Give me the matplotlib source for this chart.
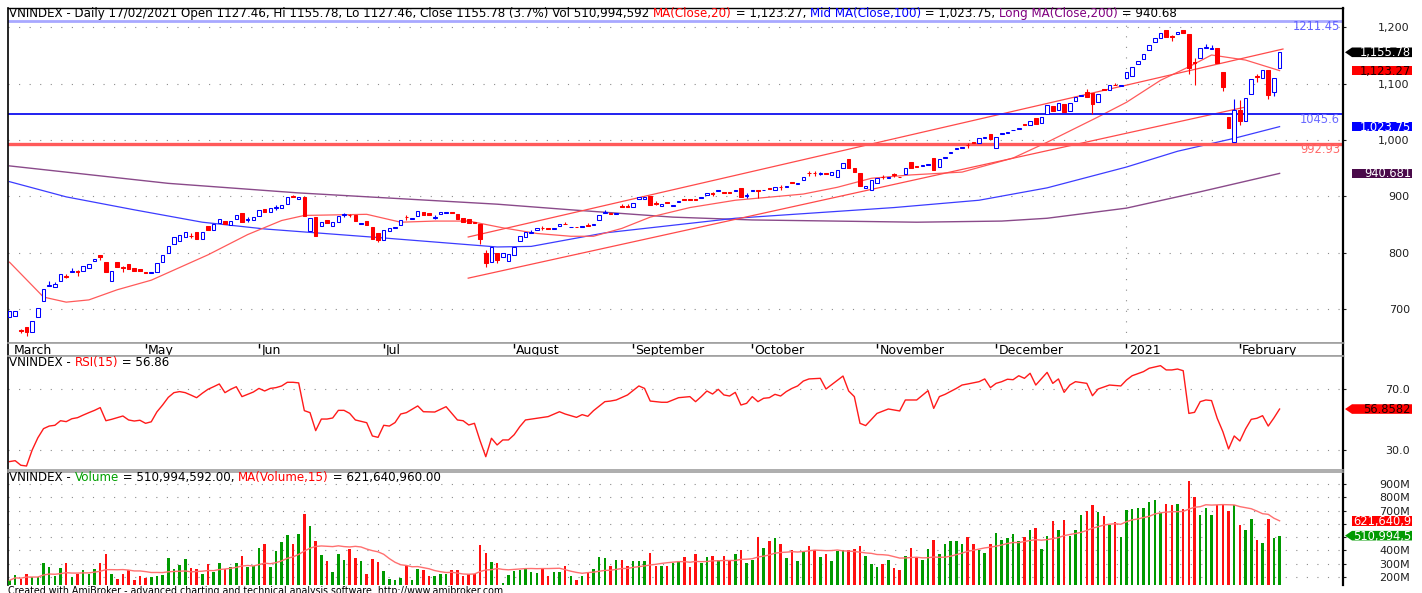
import numpy as np
import pandas as pd
import matplotlib
matplotlib.use('Agg')
import matplotlib.pyplot as plt
from matplotlib.patches import Polygon

plt.rcParams['font.family'] = ['DejaVu Sans']

# VNINDEX daily bars (bar 0 = late March 2020, last = 17/02/2021)
opens = [686, 688, 663, 668, 659, 686, 714, 740, 739, 750,
         759, 765, 767, 767, 772, 785, 795, 783, 750, 783,
         775, 779, 772, 770, 766, 763, 765, 783, 800, 815,
         820, 827, 830, 836, 824, 848, 840, 852, 856, 849,
         859, 870, 858, 858, 865, 877, 873, 880, 879, 886,
         900, 896, 899, 838, 863, 847, 858, 847, 854, 867,
         867, 866, 851, 856, 845, 834, 823, 839, 844, 849,
         864, 860, 865, 872, 870, 862, 868, 871, 872, 868,
         861, 859, 854, 850, 800, 783, 799, 793, 785, 796,
         820, 828, 834, 841, 844, 844, 842, 848, 851, 845,
         846, 846, 849, 849, 858, 871, 871, 869, 882, 882,
         881, 895, 895, 900, 888, 883, 890, 883, 890, 895,
         895, 896, 897, 903, 905, 909, 907, 907, 909, 914,
         901, 909, 912, 911, 915, 911, 917, 917, 926, 922,
         929, 942, 942, 940, 942, 938, 934, 950, 966, 950,
         941, 914, 911, 923, 935, 933, 939, 935, 939, 961,
         953, 954, 955, 968, 952, 968, 977, 984, 986, 992,
         996, 995, 1004, 1010, 986, 1010, 1013, 1017, 1020, 1028,
         1027, 1039, 1030, 1046, 1060, 1053, 1064, 1051, 1069, 1079,
         1085, 1083, 1067, 1090, 1089, 1098, 1096, 1110, 1114, 1135,
         1144, 1160, 1174, 1181, 1195, 1184, 1189, 1195, 1188, 1138,
         1145, 1164, 1162, 1163, 1121, 1041, 996, 1053, 1033, 1081,
         1113, 1110, 1124, 1085, 1127.46]
closes = [696, 697, 661, 659, 679, 702, 735, 743, 745, 762,
          757, 768, 765, 776, 779, 788, 793, 765, 767, 774,
          773, 770, 767, 768, 764, 765, 781, 795, 811, 827,
          832, 836, 829, 825, 836, 841, 850, 859, 850, 856,
          866, 854, 859, 863, 875, 872, 879, 881, 884, 899,
          899, 898, 865, 861, 829, 854, 852, 854, 865, 868,
          866, 856, 853, 849, 825, 822, 841, 843, 845, 858,
          863, 862, 874, 866, 866, 863, 872, 873, 870, 859,
          854, 852, 853, 825, 781, 810, 787, 799, 797, 810,
          830, 836, 836, 843, 843, 842, 844, 850, 850, 846,
          845, 848, 848, 851, 866, 872, 869, 871, 881, 881,
          888, 899, 898, 884, 887, 886, 888, 885, 892, 894,
          894, 894, 899, 905, 904, 911, 906, 906, 911, 899,
          902, 911, 910, 912, 913, 916, 916, 919, 924, 924,
          934, 941, 941, 941, 940, 943, 946, 959, 950, 943,
          918, 918, 929, 932, 934, 935, 938, 934, 950, 950,
          952, 955, 957, 946, 966, 970, 979, 986, 988, 991,
          995, 1003, 1006, 1002, 1005, 1012, 1014, 1018, 1021, 1026,
          1034, 1028, 1041, 1062, 1051, 1066, 1050, 1066, 1077, 1080,
          1076, 1064, 1081, 1088, 1098, 1097, 1097, 1121, 1130, 1140,
          1153, 1169, 1181, 1190, 1183, 1183, 1192, 1190, 1128, 1136,
          1163, 1165, 1163, 1137, 1094, 1021, 1053, 1033, 1074, 1108,
          1112, 1124, 1080, 1110, 1155.78]
# shadows that stick out of the body (bar index -> price)
wick_highs = {2: 665, 7: 750, 8: 748, 10: 762, 11: 772, 12: 769, 16: 796, 20: 777,
              32: 834, 42: 863, 47: 884, 50: 902, 59: 871, 60: 869, 70: 866, 75: 866,
              84: 804, 92: 840, 94: 847, 98: 854, 102: 852, 105: 875, 108: 886, 109: 886,
              114: 891, 124: 907, 130: 905, 136: 920, 141: 945, 142: 945, 143: 944,
              154: 938, 156: 941, 169: 995, 190: 1090, 195: 1102, 205: 1186, 209: 1145,
              211: 1170, 212: 1168, 216: 1072, 217: 1071, 220: 1118}
wick_lows = {2: 658, 3: 652, 10: 754, 12: 758, 16: 786, 20: 765, 32: 826, 42: 855,
             47: 876, 59: 864, 60: 863, 65: 818, 70: 858, 75: 859, 83: 815, 84: 775,
             86: 781, 94: 840, 114: 884, 124: 900, 130: 897, 132: 897, 136: 911,
             141: 936, 142: 936, 143: 937, 154: 931, 156: 934, 169: 985, 191: 1046,
             205: 1176, 208: 1117, 209: 1097, 214: 1087, 217: 1027, 220: 1103,
             222: 1073, 223: 1078}
# volume in millions of shares
volumes_m = [175, 213, 187, 226, 200, 200, 307, 276, 205, 271,
             302, 200, 226, 256, 226, 264, 307, 371, 226, 187,
             220, 251, 180, 205, 195, 200, 205, 213, 345, 264,
             289, 338, 271, 259, 226, 297, 238, 302, 264, 276,
             307, 358, 276, 284, 419, 450, 276, 394, 460, 516,
             450, 523, 676, 587, 472, 366, 322, 238, 373, 332,
             409, 345, 322, 226, 338, 315, 246, 187, 175, 195,
             284, 175, 259, 256, 205, 205, 220, 226, 251, 256,
             205, 220, 220, 442, 378, 315, 307, 157, 213, 246,
             251, 266, 238, 231, 271, 205, 236, 238, 282, 205,
             180, 205, 238, 264, 348, 345, 282, 332, 332, 282,
             322, 322, 322, 383, 282, 282, 282, 302, 322, 348,
             276, 373, 305, 350, 362, 325, 357, 325, 375, 407,
             307, 330, 500, 420, 470, 492, 445, 342, 407, 320,
             385, 435, 405, 350, 370, 317, 395, 400, 400, 410,
             430, 355, 295, 275, 300, 325, 270, 250, 362, 420,
             350, 325, 412, 482, 375, 445, 470, 470, 445, 500,
             445, 407, 380, 445, 532, 482, 495, 525, 470, 500,
             555, 565, 412, 505, 620, 555, 630, 505, 557, 665,
             700, 745, 687, 662, 592, 612, 500, 707, 712, 717,
             717, 762, 780, 680, 750, 742, 750, 712, 925, 805,
             670, 720, 670, 742, 742, 695, 745, 592, 555, 637,
             475, 457, 637, 492, 510.99]

# moving averages (bar index, value)
ma20_idx = [0, 6, 10, 14, 19, 25, 31, 35, 42, 48, 52, 63, 69, 75, 81, 87, 93, 99, 103,
            108, 113, 120, 128, 140, 146, 152, 159, 168, 177, 183, 192, 197, 203, 208,
            212, 218, 224]
ma20_val = [783, 721, 712, 716, 734, 751, 778, 796, 832, 857, 866, 868, 854, 856, 856,
            844, 834, 829, 829, 843, 863, 880, 893, 904, 916, 932, 938, 943, 968, 996,
            1041, 1067, 1106, 1130, 1151, 1142, 1123.27]
ma100_idx = [0, 10, 22, 34, 45, 66, 86, 92, 105, 128, 156, 171, 183, 197, 206, 216, 224]
ma100_val = [926, 899, 876, 854, 842, 826, 810, 811, 835, 861, 880, 893, 915, 952, 980,
             1003, 1023.75]
ma200_idx = [0, 28, 51, 86, 99, 117, 131, 160, 175, 183, 197, 210, 224]
ma200_val = [954, 923, 906, 886, 876, 863, 858, 854, 856, 861, 879, 908, 940.68]

rsi_idx = [0, 1, 2, 3, 4, 5, 6, 7, 8, 9, 10, 11, 12, 13, 14, 15, 16, 17, 18, 20,
           21, 22, 23, 24, 25, 26, 27, 28, 29, 30, 31, 32, 33, 34, 35, 36, 37, 38, 39, 40,
           41, 42, 43, 44, 45, 46, 47, 48, 49, 50, 51, 52, 53, 54, 55, 56, 57, 58, 59, 60,
           61, 63, 64, 65, 66, 67, 68, 69, 70, 72, 73, 75, 77, 79, 80, 81, 82, 83, 84, 85,
           86, 87, 88, 89, 90, 91, 93, 94, 95, 97, 98, 100, 101, 102, 103, 105, 106, 107,
           109, 111, 112, 113, 115, 116, 118, 120, 121, 122, 123, 124, 125, 126, 127, 128,
           129, 130, 131, 132, 133, 134, 135, 136, 137, 138, 139, 140, 141, 143, 144, 147,
           148, 149, 150, 151, 153, 155, 157, 158, 160, 162, 163, 164, 165, 167, 168, 169,
           171, 172, 173, 174, 175, 176, 177, 178, 179, 180, 181, 183, 184, 185, 186, 187,
           188, 190, 191, 192, 193, 194, 196, 197, 198, 200, 201, 203, 204, 205, 206, 207,
           208, 209, 210, 211, 212, 213, 214, 215, 216, 217, 218, 219, 220, 221, 222, 223,
           224]
rsi_val = [22.4, 23.0, 20.0, 19.5, 30.0, 38.0, 44.0, 45.7, 46.2, 49.2, 48.6, 50.5, 51.2,
           52.9, 54.5, 56.0, 57.8, 49.2, 50.1, 52.3,
           49.7, 49.0, 49.5, 47.5, 48.5, 55.0, 59.5, 64.5, 67.6, 68.3, 67.6, 66.0, 64.3,
           67.2, 69.8, 71.5, 73.3, 67.6, 69.8, 71.5,
           65.0, 66.5, 68.0, 70.4, 68.7, 70.4, 70.9, 72.0, 74.4, 74.4, 74.0, 55.8, 54.5,
           42.7, 50.3, 50.3, 51.0, 56.0, 56.0, 54.0,
           49.7, 47.9, 39.2, 38.3, 46.2, 45.7, 48.0, 53.6, 54.5, 58.9, 55.1, 54.9, 58.4,
           49.7, 49.2, 46.4, 47.5, 36.0, 25.6, 37.7,
           33.3, 36.6, 36.6, 40.0, 45.3, 49.7, 50.8, 51.4, 51.9, 55.1, 53.6, 51.4, 53.2,
           52.1, 55.8, 61.7, 62.1, 62.8,
           66.1, 72.0, 70.4, 62.1, 61.3, 61.3, 64.3, 65.0, 61.7, 65.0, 68.7, 66.7, 69.8,
           66.1, 65.4, 67.8,
           59.5, 60.6, 65.0, 61.7, 63.9, 64.3, 66.5, 65.4, 68.3, 70.4, 72.0, 75.2, 76.6,
           77.0, 70.0, 78.5,
           68.7, 65.0, 47.5, 46.0, 54.0, 56.9, 55.6, 62.8, 62.8, 68.9, 57.3, 65.0, 66.5,
           70.4, 72.6, 73.3,
           74.8, 76.6, 70.9, 73.7, 74.8, 76.4, 76.1, 78.7, 77.0, 80.3, 72.6, 80.9, 73.7,
           76.6, 67.8, 72.6,
           74.8, 73.7, 65.6, 70.0, 71.3, 72.6, 72.0, 75.9, 78.7, 81.4, 83.6, 85.3, 82.5,
           82.5, 83.1, 82.0,
           54.0, 54.7, 61.7, 62.8, 62.4, 50.8, 42.0, 30.7, 39.2, 35.9, 43.8, 50.1, 50.8,
           52.5, 45.7, 51.0,
           56.86]

# hand-drawn studies: two trend lines (bar index / price of both ends) and three levels
trend_idx = [[80.9, 224.6], [80.9, 217.6]]
trend_val = [[827.7, 1161.6], [754.6, 1057.7]]
levels = [1211.45, 1045.6, 992.93]
level_text = ['1211.45', '1045.6', '992.93']

month_idx = [24, 44, 66, 89, 110, 131, 153, 174, 197, 217]
month_names = ['May', 'Jun', 'Jul', 'August', 'September', 'October', 'November',
               'December', '2021', 'February']
price_ticks = [700, 800, 900, 1000, 1100, 1200]
rsi_ticks = [30, 70]
vol_ticks = [200, 300, 400, 500, 600, 700, 800, 900]

# ---------------------------------------------------------------------------
W, H = 1422, 593
fig = plt.figure(figsize=(W / 100, H / 100), dpi=100)
LEFT, RIGHT = 8, 1343
X0, DX = 9.5, 5.67          # pixel of the first bar and bar spacing
GRID = dict(color='#8c8c8c', lw=0.8, ls=(0, (1, 8.5)))
TXT = 8.6


def frac(x, y):
    return x / W, 1 - y / H


def panel(top, bottom):
    ax = fig.add_axes([LEFT / W, 1 - bottom / H, (RIGHT - LEFT) / W, (bottom - top) / H])
    ax.set_xlim((LEFT - X0) / DX, (RIGHT - X0) / DX)
    ax.set_xticks([])
    for s in ax.spines.values():
        s.set_color('#a0a0a0')
        s.set_linewidth(1.2)
    ax.spines['left'].set_color('black')
    ax.spines['right'].set_color('black')
    ax.spines['right'].set_linewidth(1.6)
    return ax


def right_ticks(ax, ticks, labels):
    ax.yaxis.tick_right()
    ax.set_yticks(ticks)
    ax.set_yticklabels(labels, ha='right')
    ax.tick_params(axis='y', direction='out', length=2.5, width=0.8, colors='#202020',
                   labelsize=8.0, pad=45.6)
    ax.grid(axis='y', **GRID)


def header(ax, x, y, pieces, size=TXT):
    prev = ax.annotate(pieces[0][0], xy=frac(x, y), xycoords='figure fraction',
                       color=pieces[0][1], fontsize=size, va='bottom', ha='left',
                       annotation_clip=False)
    for txt, col in pieces[1:]:
        prev = ax.annotate(txt, xy=(1, 0), xycoords=prev, color=col, fontsize=size,
                           va='bottom', ha='left', annotation_clip=False)


def tag(ax, value, text, face, ink, arrow=False):
    yc = H - ax.transData.transform((0, value))[1]
    x1, x2, h = 1352, 1412, 4.8
    pts = [(x1, yc - h), (x2, yc - h), (x2, yc + h), (x1, yc + h)]
    if arrow:
        pts = [(1345, yc)] + pts
    poly = Polygon([frac(*p) for p in pts], closed=True, transform=fig.transFigure,
                   facecolor=face, edgecolor='none', zorder=10)
    fig.add_artist(poly)
    fig.text(*frac(1411, yc + 0.5), text, ha='right', va='center', color=ink,
             fontsize=8.3, zorder=11)


idx = np.arange(len(closes))
o = np.array(opens, dtype=float)
c = np.array(closes, dtype=float)
up = c >= o

# ---- price panel ----
ax_p = panel(8, 343)
ax_p.set_ylim(1200 - (343 - 27.4) / 0.563, 1200 + (27.4 - 8) / 0.563)
ax_p.spines['top'].set_color('black')
ax_p.spines['top'].set_linewidth(1.0)
right_ticks(ax_p, price_ticks, [f'{v:,}' for v in price_ticks])
ax_p.axvline(197, **GRID)

hi = np.maximum(o, c)
lo = np.minimum(o, c)
for i, v in wick_highs.items():
    hi[i] = v
for i, v in wick_lows.items():
    lo[i] = v
cols = np.where(up, '#0000ff', '#ff0000')
ax_p.vlines(idx, lo, hi, colors=cols, lw=0.8, zorder=3)
body = np.maximum(np.abs(c - o), 0.6)
ax_p.bar(idx[up], body[up], bottom=np.minimum(o, c)[up], width=0.62,
         facecolor='white', edgecolor='#0000ff', lw=0.75, zorder=4)
ax_p.bar(idx[~up], body[~up], bottom=np.minimum(o, c)[~up], width=0.62,
         facecolor='#ff0000', edgecolor='#ff0000', lw=0.75, zorder=4)

ax_p.plot(ma200_idx, ma200_val, color='#8a4a8a', lw=1.0, zorder=2)
ax_p.plot(ma100_idx, ma100_val, color='#3c3cff', lw=0.9, zorder=2)
ax_p.plot(ma20_idx, ma20_val, color='#ff5a5a', lw=0.9, zorder=2)
for tx, ty in zip(trend_idx, trend_val):
    ax_p.plot(tx, ty, color='#ff4a4a', lw=0.9, zorder=2)

level_style = [('#a8a8ff', 2.0, '#6060ff'), ('#2020f0', 1.4, '#6a6aff'),
               ('#ff5a5a', 2.4, '#ff6a6a')]
for lv, lt, (lc, lw, tc) in zip(levels, level_text, level_style):
    ax_p.axhline(lv, color=lc, lw=lw, zorder=2)
    yl = H - ax_p.transData.transform((0, lv))[1]
    fig.text(*frac(1340, yl + 5.5), lt, ha='right', va='center', color=tc, fontsize=8.3,
             zorder=6)

header(ax_p, 9, 20, [('VNINDEX - Daily 17/02/2021 Open 1127.46, Hi 1155.78, Lo 1127.46, '
                      'Close 1155.78 (3.7%) Vol 510,994,592 ', 'black'),
                     ('MA(Close,20)', '#ff0000'), (' = 1,123.27, ', 'black'),
                     ('Mid MA(Close,100)', '#0000ff'), (' = 1,023.75, ', 'black'),
                     ('Long MA(Close,200)', '#800080'), (' = 940.68', 'black')])

tag(ax_p, 1155.78, '1,155.78', 'black', 'white', arrow=True)
tag(ax_p, 1123.27, '1,123.27', '#ff0000', '#200000')
tag(ax_p, 1023.75, '1,023.75', '#0000ff', 'white')
tag(ax_p, 940.681, '940.681', '#4a0a4a', 'white')

# ---- month strip ----
ax_m = panel(343, 356)
ax_m.set_ylim(0, 1)
ax_m.set_yticks([])
ax_m.vlines(month_idx, 0.62, 1.0, color='black', lw=1.0)
ax_m.text(0.8, 0.42, 'March', fontsize=9, va='center', ha='left')
for mi, mn in zip(month_idx, month_names):
    ax_m.text(mi + 0.4, 0.42, mn, fontsize=9, va='center', ha='left')

# ---- RSI panel ----
ax_r = panel(356, 470)
ax_r.set_ylim(70 - (470 - 389) / 1.525, 70 + (389 - 356) / 1.525)
right_ticks(ax_r, rsi_ticks, [f'{v:.1f}' for v in rsi_ticks])
ax_r.plot(rsi_idx, rsi_val, color='#ff1a1a', lw=1.0)
header(ax_r, 9, 369, [('VNINDEX - ', 'black'), ('RSI(15)', '#ff0000'),
                      (' = 56.86', 'black')])
tag(ax_r, 56.8582, '56.8582', '#ff0000', '#200000', arrow=True)

# ---- volume panel ----
ax_v = panel(472, 585)
ax_v.set_ylim(200 - (585 - 577) / 13.43 * 100, 900 + (484 - 472) / 13.43 * 100)
# 500M and 600M sit under the two value tags, so they stay unlabelled
right_ticks(ax_v, vol_ticks, ['' if v in (500, 600) else f'{v}M' for v in vol_ticks])
ax_v.spines['bottom'].set_visible(False)
vol = np.array(volumes_m)
ax_v.bar(idx, vol, width=0.45, color=np.where(up, '#009a00', '#ff1010'), zorder=3)
ax_v.plot(idx, pd.Series(vol).rolling(15, min_periods=1).mean(), color='#ff7070',
          lw=1.0, zorder=4)
header(ax_v, 9, 484, [('VNINDEX - ', 'black'), ('Volume', '#00a000'),
                      (' = 510,994,592.00, ', 'black'), ('MA(Volume,15)', '#ff0000'),
                      (' = 621,640,960.00', 'black')])
tag(ax_v, 621.64096, '621,640,9', '#ff0000', 'white')
tag(ax_v, 510.994592, '510,994,5', '#009a00', 'white', arrow=True)

fig.text(*frac(8, 585.5), 'Created with AmiBroker - advanced charting and technical '
         'analysis software. http://www.amibroker.com', fontsize=6.85, va='top', ha='left')

fig.savefig('out.png', dpi=100)
